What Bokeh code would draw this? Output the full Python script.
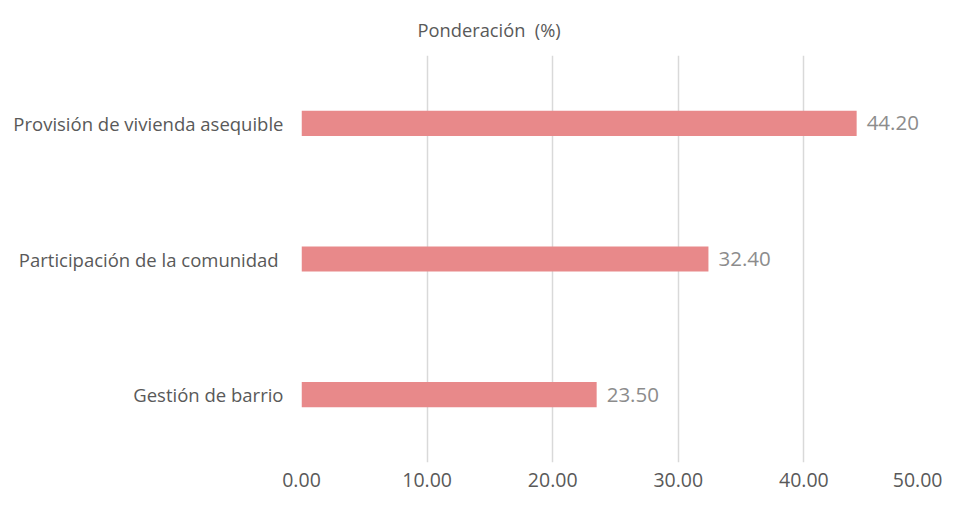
from bokeh.plotting import figure
from bokeh.models import FactorRange, Range1d, FixedTicker, NumeralTickFormatter, ColumnDataSource, Title
from bokeh.core.properties import value
from bokeh.embed import file_html
from bokeh.resources import INLINE

categories = ["Gestión de barrio", "Participación de la comunidad ", "Provisión de vivienda asequible"]
values = [23.50, 32.40, 44.20]
x_ticks = [0, 10, 20, 30, 40, 50]

FONT = "Open Sans"
TEXT = "#595959"

src = ColumnDataSource(dict(cat=categories, val=values, lab=[f"{v:.2f}" for v in values]))

p = figure(width=942, height=498, output_backend="svg", toolbar_location=None,
           y_range=FactorRange(factors=categories, range_padding=0),
           x_range=Range1d(0, 50),
           min_border_left=301, min_border_right=13, min_border_top=54, min_border_bottom=36)

p.title = Title(text="Ponderación\u00a0\u00a0(%)", align="left", offset=116, standoff=28,
                text_font=FONT, text_font_size="18.3px", text_font_style="normal", text_color=TEXT)

p.hbar(y="cat", right="val", left=0, height=0.185, source=src, color="#E8898A", line_color=None)
p.text(x="val", y="cat", text="lab", source=src, x_offset=10, text_baseline="middle",
       text_font=value(FONT), text_font_size="20.5px", text_color="#8c8c8c")

p.outline_line_color = None
p.ygrid.grid_line_color = None
p.xgrid.grid_line_color = "#d9d9d9"
p.xgrid.grid_line_width = 1.5

p.xaxis.ticker = FixedTicker(ticks=x_ticks)
p.xaxis.formatter = NumeralTickFormatter(format="0.00")
for ax in (p.xaxis, p.yaxis):
    ax.axis_line_color = None
    ax.major_tick_line_color = None
    ax.minor_tick_line_color = None
    ax.major_label_text_font = FONT
    ax.major_label_text_color = TEXT
p.xaxis.major_label_text_font_size = "19.5px"
p.xaxis.major_label_standoff = 4
p.yaxis.major_label_text_font_size = "18.5px"
p.yaxis.major_label_standoff = 12

open("out.html", "w").write(file_html(p, INLINE))
